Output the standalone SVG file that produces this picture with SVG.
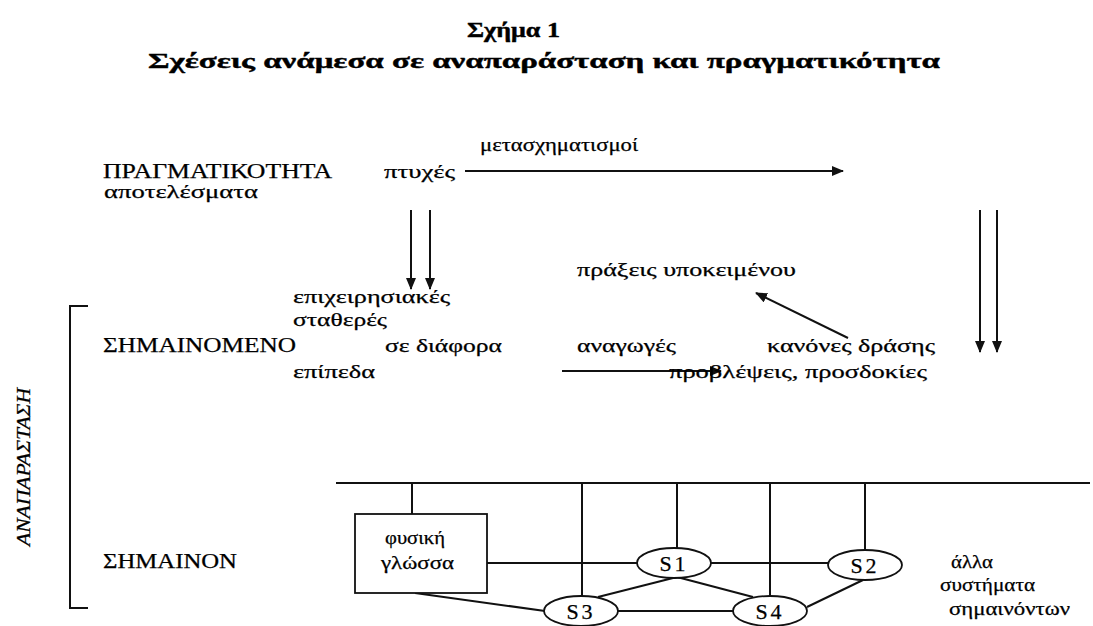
<svg xmlns="http://www.w3.org/2000/svg" width="1093" height="626" viewBox="0 0 1093 626">
<style>
text{font-family:"Liberation Serif","DejaVu Serif",serif;fill:#000;font-size:19px;stroke:#000;stroke-width:0.25}
.title{font-weight:bold;font-size:22px;stroke-width:0.4}
.caps{font-size:20px}
.sl{font-size:22px}
.ln{stroke:#111;stroke-width:2;fill:none}
.sh{stroke:#111;stroke-width:1.8;fill:#fff}
</style>
<defs>
<marker id="ah" markerUnits="userSpaceOnUse" markerWidth="12" markerHeight="10" refX="11" refY="5" orient="auto">
<path d="M0,0 L12,5 L0,10 Z" fill="#111"/>
</marker>
</defs>
<g id="title">
<text class="title" x="467" y="37" textLength="93" lengthAdjust="spacingAndGlyphs">Σχήμα 1</text>
<text class="title" x="148" y="68" textLength="792" lengthAdjust="spacingAndGlyphs">Σχέσεις ανάμεσα σε αναπαράσταση και πραγματικότητα</text>
</g>
<g id="connectors">
<line class="ln" x1="465" y1="171" x2="843" y2="171" marker-end="url(#ah)"/>
<line class="ln" x1="411" y1="210" x2="411" y2="289" marker-end="url(#ah)"/>
<line class="ln" x1="430" y1="210" x2="430" y2="289" marker-end="url(#ah)"/>
<line class="ln" x1="980" y1="210" x2="980" y2="352" marker-end="url(#ah)"/>
<line class="ln" x1="997" y1="210" x2="997" y2="352" marker-end="url(#ah)"/>
<line class="ln" x1="848" y1="338" x2="756" y2="293" marker-end="url(#ah)"/>
<line class="ln" x1="562" y1="371" x2="721" y2="371" marker-end="url(#ah)"/>
<path class="ln" d="M88,306 H70 V608 H88"/>
<line class="ln" x1="336" y1="483" x2="1090" y2="483"/>
<line class="ln" x1="412" y1="483" x2="412" y2="514"/>
<line class="ln" x1="582" y1="483" x2="582" y2="597"/>
<line class="ln" x1="677" y1="483" x2="677" y2="548"/>
<line class="ln" x1="770" y1="483" x2="770" y2="598"/>
<line class="ln" x1="865" y1="483" x2="865" y2="551"/>
<line class="ln" x1="487" y1="563" x2="637" y2="563"/>
<line class="ln" x1="710" y1="563" x2="828" y2="563"/>
<line class="ln" x1="617" y1="611" x2="733" y2="611"/>
<line class="ln" x1="415" y1="593" x2="545" y2="611"/>
<line class="ln" x1="677" y1="577" x2="598" y2="597"/>
<line class="ln" x1="677" y1="577" x2="753" y2="597"/>
<line class="ln" x1="863" y1="580" x2="807" y2="607"/>
</g>
<g id="reality">
<text class="caps" x="103" y="178" textLength="229" lengthAdjust="spacingAndGlyphs">ΠΡΑΓΜΑΤΙΚΟΤΗΤΑ</text>
<text x="104" y="198" textLength="154" lengthAdjust="spacingAndGlyphs">αποτελέσματα</text>
<text x="384" y="178" textLength="71" lengthAdjust="spacingAndGlyphs">πτυχές</text>
<text x="480" y="151" textLength="158" lengthAdjust="spacingAndGlyphs">μετασχηματισμοί</text>
</g>
<g id="signified">
<text x="577" y="276" textLength="219" lengthAdjust="spacingAndGlyphs">πράξεις υποκειμένου</text>
<text x="293" y="303" textLength="157" lengthAdjust="spacingAndGlyphs">επιχειρησιακές</text>
<text x="293" y="326" textLength="94" lengthAdjust="spacingAndGlyphs">σταθερές</text>
<text class="caps" x="103" y="352" textLength="193" lengthAdjust="spacingAndGlyphs">ΣΗΜΑΙΝΟΜΕΝΟ</text>
<text x="385" y="352" textLength="117" lengthAdjust="spacingAndGlyphs">σε διάφορα</text>
<text x="293" y="378" textLength="82" lengthAdjust="spacingAndGlyphs">επίπεδα</text>
<text x="577" y="352" textLength="99" lengthAdjust="spacingAndGlyphs">αναγωγές</text>
<text x="767" y="352" textLength="168" lengthAdjust="spacingAndGlyphs">κανόνες δράσης</text>
<text x="669" y="378" textLength="258" lengthAdjust="spacingAndGlyphs">προβλέψεις, προσδοκίες</text>
</g>
<g id="representation">
<text transform="translate(30,467) rotate(-90)" text-anchor="middle" font-style="italic" font-size="17" textLength="158" lengthAdjust="spacingAndGlyphs">ΑΝΑΠΑΡΑΣΤΑΣΗ</text>
</g>
<g id="signifier">
<text class="caps" x="103" y="568" textLength="134" lengthAdjust="spacingAndGlyphs">ΣΗΜΑΙΝΟΝ</text>
</g>
<g id="natural-language">
<rect class="sh" x="355" y="514" width="132" height="79"/>
<text x="385" y="544" textLength="60" lengthAdjust="spacingAndGlyphs">φυσική</text>
<text x="381" y="569" textLength="73" lengthAdjust="spacingAndGlyphs">γλώσσα</text>
</g>
<g id="s1">
<ellipse class="sh" cx="674" cy="563" rx="37" ry="15"/>
<text class="sl" x="674" y="571" text-anchor="middle" letter-spacing="3">S1</text>
</g>
<g id="s2">
<ellipse class="sh" cx="865" cy="565" rx="37" ry="15"/>
<text class="sl" x="865" y="573" text-anchor="middle" letter-spacing="3">S2</text>
</g>
<g id="s3">
<ellipse class="sh" cx="581" cy="611" rx="37" ry="15"/>
<text class="sl" x="581" y="619" text-anchor="middle" letter-spacing="3">S3</text>
</g>
<g id="s4">
<ellipse class="sh" cx="770" cy="611" rx="37" ry="15"/>
<text class="sl" x="770" y="619" text-anchor="middle" letter-spacing="3">S4</text>
</g>
<g id="other-systems">
<text x="951" y="568" textLength="42" lengthAdjust="spacingAndGlyphs">άλλα</text>
<text x="940" y="591" textLength="95" lengthAdjust="spacingAndGlyphs">συστήματα</text>
<text x="949" y="615" textLength="121" lengthAdjust="spacingAndGlyphs">σημαινόντων</text>
</g>
</svg>
